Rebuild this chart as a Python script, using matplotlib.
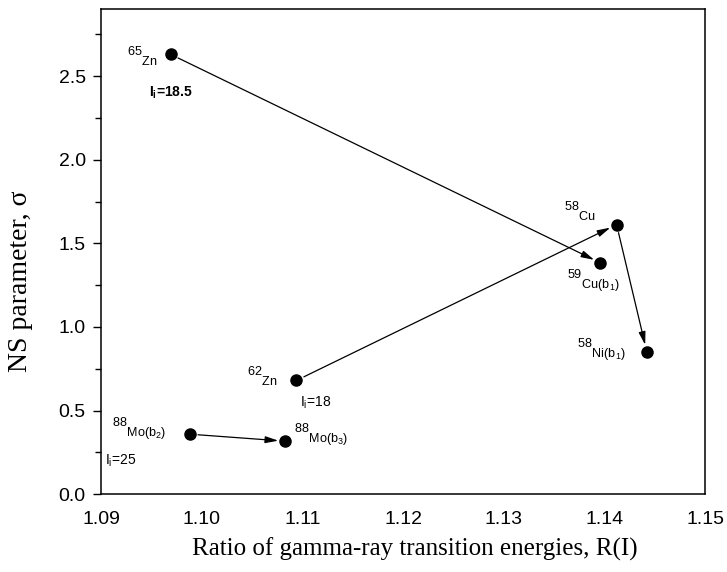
import matplotlib
matplotlib.use('Agg')
import matplotlib.pyplot as plt
from matplotlib.ticker import MultipleLocator

# data
nuclei = ['65Zn', '59Cu(b1)', '58Cu', '58Ni(b1)', '62Zn', '88Mo(b2)', '88Mo(b3)']
ratio_R = [1.0969, 1.1396, 1.1412, 1.1442, 1.1094, 1.0988, 1.1083]
sigma = [2.63, 1.383, 1.612, 0.852, 0.68, 0.359, 0.317]
labels = [r'${}^{65}{}_{\mathrm{Zn}}$',
          r'${}^{59}{}_{\mathrm{Cu(b_{1})}}$',
          r'${}^{58}{}_{\mathrm{Cu}}$',
          r'${}^{58}{}_{\mathrm{Ni(b_{1})}}$',
          r'${}^{62}{}_{\mathrm{Zn}}$',
          r'${}^{88}{}_{\mathrm{Mo(b_{2})}}$',
          r'${}^{88}{}_{\mathrm{Mo(b_{3})}}$']
# arrows: from index -> to index
arrows = [(0, 1), (4, 2), (2, 3), (5, 6)]
# spin labels attached to points
spin_idx = [0, 4, 5]
spin_text = [r'I$_{\mathbf{i}}$=18.5', r'I$_{\mathrm{i}}$=18', r'I$_{\mathrm{i}}$=25']
spin_weight = ['bold', 'normal', 'normal']

plt.rcParams['mathtext.fontset'] = 'custom'
plt.rcParams['mathtext.rm'] = 'Liberation Sans'
plt.rcParams['mathtext.it'] = 'Liberation Sans:italic'
plt.rcParams['mathtext.bf'] = 'Liberation Sans:bold'
plt.rcParams['font.family'] = 'Liberation Sans'

fig = plt.figure(figsize=(7.27, 5.72), dpi=100)
ax = fig.add_axes([0.139, 0.136, 0.831, 0.848])

ax.plot(ratio_R, sigma, 'o', color='black', markersize=8, zorder=3)

for a, b in arrows:
    ax.annotate('', xy=(ratio_R[b], sigma[b]), xytext=(ratio_R[a], sigma[a]),
                arrowprops=dict(arrowstyle='-|>,head_length=0.65,head_width=0.17',
                                color='black', lw=0.9, shrinkA=6, shrinkB=5,
                                mutation_scale=12))

# label offsets (points) and alignment
lab_pos = [(-9.4, -1.8, 'right'), (-23.8, -13.2, 'left'), (-14.9, 9.7, 'right'),
           (-14.9, 1.5, 'right'), (-13.7, 3.2, 'right'), (-16.8, 3.6, 'right'),
           (6.5, 4.5, 'left')]
for i, lab in enumerate(labels):
    dx, dy, ha = lab_pos[i]
    ax.annotate(lab, (ratio_R[i], sigma[i]), xytext=(dx, dy), textcoords='offset points',
                ha=ha, va='center', fontsize=13)

spin_pos = [(-15.8, -28), (2.9, -15.8), (-61, -19)]
for k, i in enumerate(spin_idx):
    dx, dy = spin_pos[k]
    ax.annotate(spin_text[k], (ratio_R[i], sigma[i]), xytext=(dx, dy),
                textcoords='offset points', ha='left', va='center', fontsize=10,
                fontweight=spin_weight[k])

ax.set_xlim(1.09, 1.15)
ax.set_ylim(0, 2.9)
ax.xaxis.set_major_locator(MultipleLocator(0.01))
ax.yaxis.set_major_locator(MultipleLocator(0.5))
ax.yaxis.set_minor_locator(MultipleLocator(0.25))
ax.xaxis.set_major_formatter(plt.FormatStrFormatter('%.2f'))
ax.yaxis.set_major_formatter(plt.FormatStrFormatter('%.1f'))
ax.tick_params(axis='x', length=0, pad=12, labelsize=14)
ax.tick_params(axis='y', which='major', length=6, width=1, labelsize=14, pad=5)
ax.tick_params(axis='y', which='minor', length=4, width=1)
for s in ax.spines.values():
    s.set_linewidth(1.1)

ax.set_xlabel('Ratio of gamma-ray transition energies, R(I)', family='Liberation Serif', fontsize=18)
ax.set_ylabel('NS parameter, σ', family='Liberation Serif', fontsize=20)
ax.xaxis.set_label_coords(0.52, -0.09)
ax.yaxis.set_label_coords(-0.112, 0.44)

fig.savefig('out.png', dpi=100)
